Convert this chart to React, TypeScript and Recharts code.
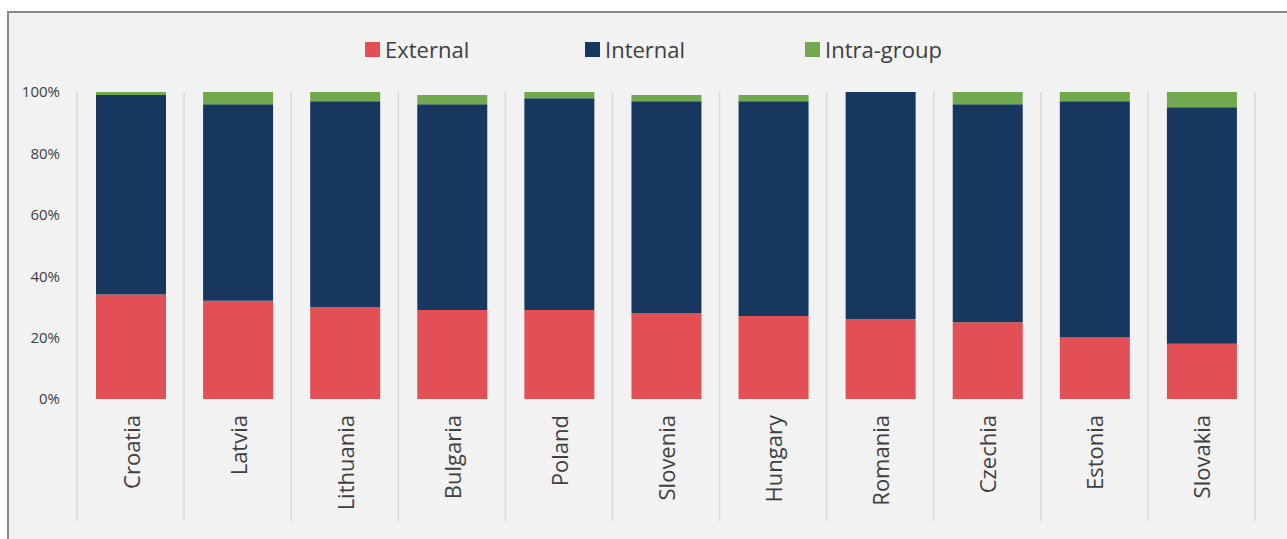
import { BarChart, Bar, XAxis, YAxis, Legend } from 'recharts';

const countries = ['Croatia', 'Latvia', 'Lithuania', 'Bulgaria', 'Poland', 'Slovenia', 'Hungary', 'Romania', 'Czechia', 'Estonia', 'Slovakia'];
const external = [34, 32, 30, 29, 29, 28, 27, 26, 25, 20, 18];
const internal = [65, 64, 67, 67, 69, 69, 70, 74, 71, 77, 77];
const intraGroup = [1, 4, 3, 3, 2, 2, 2, 0, 4, 3, 5];
const yTicks = [0, 20, 40, 60, 80, 100];

const data = countries.map((country, i) => ({
  country,
  external: external[i],
  internal: internal[i],
  intra: intraGroup[i],
}));

const W = 1278;
const H = 526;
const M = { top: 39, right: 32, bottom: 18, left: 8 };
const Y_W = 60;
const PLOT_LEFT = M.left + Y_W;
const PLOT_W = W - PLOT_LEFT - M.right;
const BAND = PLOT_W / countries.length;
const PLOT_TOP = 79;
const PLOT_BOTTOM = 386;
const SEP_BOTTOM = 508;

const FONT = '"Open Sans", "Noto Sans", sans-serif';
const TEXT = '#404040';

const legendItems = [
  { name: 'External', color: '#E24F55' },
  { name: 'Internal', color: '#17375E' },
  { name: 'Intra-group', color: '#72A94F' },
];

function LegendContent() {
  return (
    <div style={{ height: 40, display: 'flex', alignItems: 'center', paddingLeft: 356, fontFamily: FONT, fontSize: 22, color: TEXT }}>
      {legendItems.map((it) => (
        <div key={it.name} style={{ width: 220, display: 'flex', alignItems: 'center' }}>
          <span style={{ width: 15, height: 15, background: it.color, display: 'inline-block', marginRight: 5 }} />
          <span>{it.name}</span>
        </div>
      ))}
    </div>
  );
}

function CountryTick(props: any) {
  const { x, payload } = props;
  const idx = payload.index;
  const left = x - BAND / 2;
  const right = x + BAND / 2;
  const ty = 402;
  return (
    <g>
      <line x1={left} x2={left} y1={PLOT_TOP} y2={SEP_BOTTOM} stroke="#d9d9d9" strokeWidth={1.5} />
      {idx === countries.length - 1 && (
        <line x1={right} x2={right} y1={PLOT_TOP} y2={SEP_BOTTOM} stroke="#d9d9d9" strokeWidth={1.5} />
      )}
      <text
        x={x}
        y={ty}
        transform={`rotate(-90, ${x}, ${ty})`}
        textAnchor="end"
        dominantBaseline="central"
        fontFamily={FONT}
        fontSize={22}
        fill={TEXT}
      >
        {payload.value}
      </text>
    </g>
  );
}

export default function App() {
  return (
    <div
      style={{
        position: 'absolute',
        left: 7,
        top: 11,
        width: W,
        height: H,
        background: '#f2f2f2',
        borderLeft: '2px solid #888888',
        borderTop: '2px solid #888888',
      }}
    >
      <BarChart width={W} height={H} data={data} margin={M} barSize={70}>
        <Legend verticalAlign="top" content={<LegendContent />} wrapperStyle={{ top: 16, left: 0, width: W }} />
        <XAxis
          dataKey="country"
          axisLine={false}
          tickLine={false}
          interval={0}
          height={SEP_BOTTOM - PLOT_BOTTOM}
          tick={<CountryTick />}
        />
        <YAxis
          width={Y_W}
          domain={[0, 100]}
          ticks={yTicks}
          axisLine={false}
          tickLine={false}
          tickSize={0}
          tickMargin={17}
          tickFormatter={(v: number) => `${v}%`}
          tick={{ fontFamily: FONT, fontSize: 15, fill: TEXT }}
        />
        <Bar dataKey="external" name="External" stackId="a" fill="#E24F55" isAnimationActive={false} />
        <Bar dataKey="internal" name="Internal" stackId="a" fill="#17375E" isAnimationActive={false} />
        <Bar dataKey="intra" name="Intra-group" stackId="a" fill="#72A94F" isAnimationActive={false} />
      </BarChart>
    </div>
  );
}
